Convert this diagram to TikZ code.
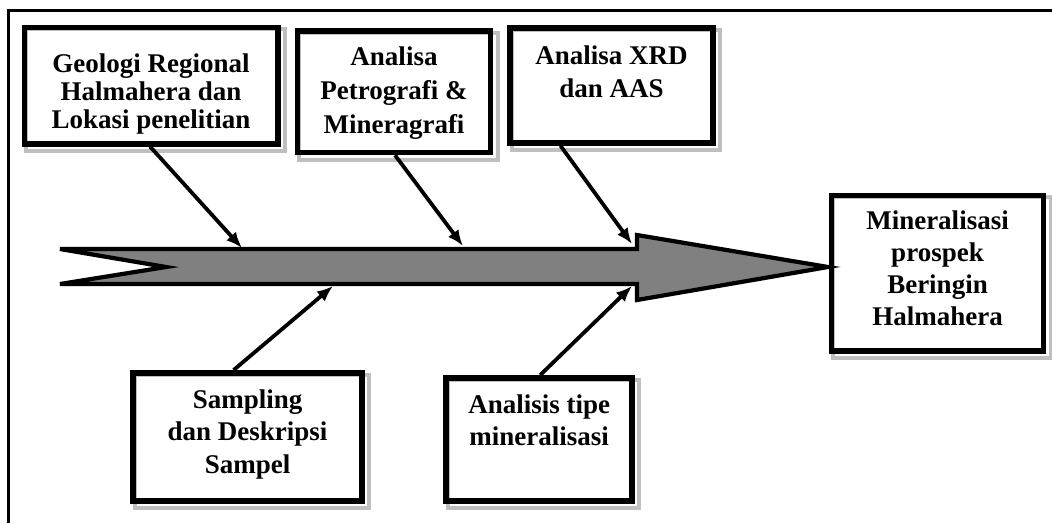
\documentclass[tikz,border=0pt]{standalone}
\usepackage{fontspec}
\setmainfont{Liberation Serif}
\usetikzlibrary{arrows.meta,calc,backgrounds}
\begin{document}
\begin{tikzpicture}[x=1pt,y=-1pt,
  boxst/.style={draw=black, line width=5.5pt, inner sep=0pt, rectangle},
  shadowst/.style={draw=black!25, line width=4pt},
  txt/.style={font=\bfseries\fontsize{27}{33}\selectfont, align=center, inner sep=0pt, anchor=base},
  feed/.style={line width=3.8pt, -{Latex[length=16pt,width=13pt]}},
  spine/.style={draw=black, fill=black!50, line width=4.2pt, line join=miter},
  frame/.style={line width=3.5pt}
]
\useasboundingbox (0,0) rectangle (1052,523);
% outer frame
\draw[frame] (8.3,523) -- (8.3,10.3) -- (1052,10.3);

% boxes
\node[boxst, minimum width=253.5pt, minimum height=116.5pt] (b1) at (151,85.5) {};
\node[boxst, minimum width=193pt, minimum height=121.7pt] (b2) at (394,91.6) {};
\node[boxst, minimum width=203pt, minimum height=114.8pt] (b3) at (611.5,85.6) {};
\node[boxst, minimum width=212.4pt, minimum height=155.7pt] (b4) at (937.5,273.3) {};
\node[boxst, minimum width=229pt, minimum height=128.4pt] (b5) at (247.6,437) {};
\node[boxst, minimum width=186pt, minimum height=123.4pt] (b6) at (539.2,439.5) {};

% texts (anchored at the baseline of the last line)
\node[txt, font=\bfseries\fontsize{27}{28}\selectfont] (t1) at (151,128) {Geologi Regional\\Halmahera dan\\Lokasi penelitian};
\node[txt, font=\bfseries\fontsize{27}{34}\selectfont] (t2) at (394,133) {Analisa\\Petrografi \&\\Mineragrafi};
\node[txt] (t3) at (611.5,97) {Analisa XRD\\dan AAS};
\node[txt, font=\bfseries\fontsize{27}{31.7}\selectfont] (t4) at (937.5,325) {Mineralisasi\\prospek\\Beringin\\Halmahera};
\node[txt, font=\bfseries\fontsize{27}{32.5}\selectfont] (t5) at (247.6,473) {Sampling\\dan Deskripsi\\Sampel};
\node[txt, font=\bfseries\fontsize{27}{32}\selectfont] (t6) at (539.2,445) {Analisis tipe\\mineralisasi};

% spine (big arrow)
\coordinate (s1) at (60,249);
\coordinate (s2) at (637,249);
\coordinate (s3) at (637,235);
\coordinate (tip) at (828,267);
\coordinate (s5) at (637,300);
\coordinate (s6) at (637,284);
\coordinate (s7) at (60,284);
\coordinate (notch) at (166,267);
\draw[spine] (s1) -- (s2) -- (s3) -- (tip) -- (s5) -- (s6) -- (s7) -- (notch) -- cycle;

% feed arrow ends
\coordinate (e1) at (242,248);
\coordinate (e2) at (463,246);
\coordinate (e3) at (632,244);
\coordinate (e4) at (333,286);
\coordinate (e5) at (632,286);

\draw[feed] ([xshift=-1pt]b1.south) -- (e1);
\draw[feed] ([xshift=1pt]b2.south) -- (e2);
\draw[feed] ([xshift=-51pt]b3.south) -- (e3);
\draw[feed] ([xshift=-14pt]b5.north) -- (e4);
\draw[feed] ([xshift=1pt]b6.north) -- (e5);

\begin{pgfonlayer}{background}
\fill[white] (0,0) rectangle (1052,523);
\foreach \b in {b1,b2,b3,b4,b5,b6}
  \draw[shadowst] ($(\b.south west)+(4.5,4.5)$) rectangle ($(\b.north east)+(4.5,4.5)$);
\end{pgfonlayer}
\end{tikzpicture}
\end{document}
